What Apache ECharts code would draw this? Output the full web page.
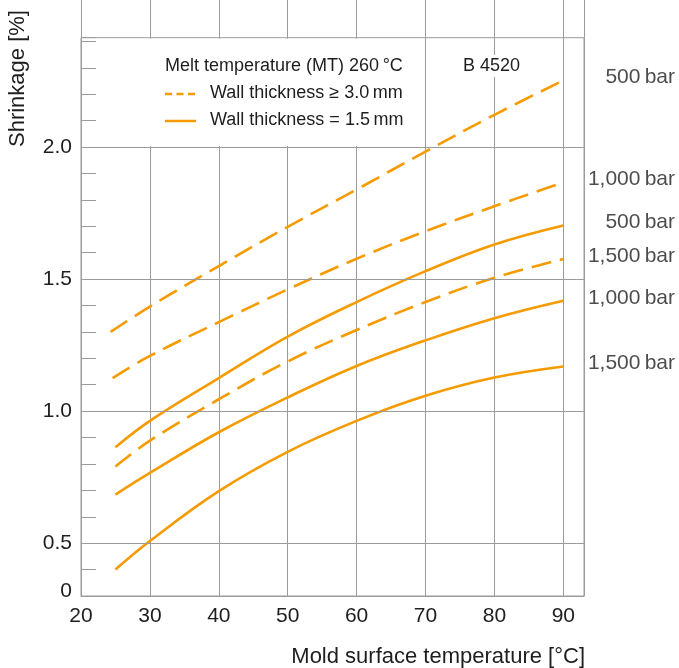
<!DOCTYPE html>
<html><head><meta charset="utf-8">
<script src="https://cdn.jsdelivr.net/npm/echarts@6/dist/echarts.min.js"></script>
<style>html,body{margin:0;padding:0;background:#fff}#c{width:679px;height:668px}</style>
</head><body><div id="c"></div>
<script>
// ---- data ----
const temps      = [25, 30, 40, 50, 60, 70, 80, 90];
const tempsD500  = [24.3, 30, 40, 50, 60, 70, 80, 90];
const tempsD1000 = [24.6, 30, 40, 50, 60, 70, 80, 90];
// wall thickness >= 3.0 mm (dashed)
const dashed500  = [1.300, 1.396, 1.549, 1.698, 1.839, 1.983, 2.122, 2.252];
const dashed1000 = [1.125, 1.209, 1.337, 1.461, 1.577, 1.681, 1.776, 1.866];
const dashed1500 = [0.790, 0.888, 1.045, 1.188, 1.307, 1.413, 1.505, 1.576];
// wall thickness = 1.5 mm (solid)
const solid500   = [0.863, 0.963, 1.125, 1.282, 1.413, 1.530, 1.631, 1.703];
const solid1000  = [0.684, 0.766, 0.920, 1.052, 1.171, 1.268, 1.352, 1.418];
const solid1500  = [0.400, 0.508, 0.697, 0.846, 0.963, 1.058, 1.127, 1.169];
const pressureLabels = ['500\u2009bar', '1,000\u2009bar', '1,500\u2009bar'];
const xTickLabels = [20, 30, 40, 50, 60, 70, 80, 90];
const yTickLabels = [0.5, 1.0, 1.5, 2.0];
const yGridLines  = [0.5, 1.0, 1.5, 2.0];
const zeroLabel = '0';
const xMin = 20, xMax = 93, yMin = 0.3, yMax = 2.414;

// ---- styles ----
const FONT = "'Liberation Sans', Arial, Helvetica, sans-serif";
const ORANGE = '#f59b00';
const GRAY = '#9b9b9b';
const TEXT = '#1e1e1e';

const curves = [
  {x: tempsD500,  y: dashed500,  dash: true,  label: pressureLabels[0]},
  {x: tempsD1000, y: dashed1000, dash: true,  label: pressureLabels[1]},
  {x: temps,      y: solid500,   dash: false, label: pressureLabels[0]},
  {x: temps,      y: dashed1500, dash: true,  label: pressureLabels[2]},
  {x: temps,      y: solid1000,  dash: false, label: pressureLabels[1]},
  {x: temps,      y: solid1500,  dash: false, label: pressureLabels[2]}
];

const series = curves.map((c, k) => ({
  type: 'line', xAxisIndex: 0, yAxisIndex: 0, silent: true, z: 3,
  data: c.x.map((t, i) => [t, c.y[i]]),
  smooth: 0.4, showSymbol: false, symbol: 'none',
  lineStyle: {color: ORANGE, width: 2.6, type: c.dash ? [20, 9] : 'solid', cap: 'butt'},
  markLine: k === 0 ? {
    silent: true, symbol: ['none', 'none'], label: {show: false}, animation: false,
    lineStyle: {color: GRAY, type: 'solid', width: 1},
    emphasis: {disabled: true},
    data: yGridLines.map(v => ({yAxis: v}))
  } : undefined
}));

series.push({
  type: 'scatter', xAxisIndex: 0, yAxisIndex: 0, silent: true, z: 4,
  symbolSize: 1, itemStyle: {color: 'rgba(0,0,0,0)'},
  label: {show: true, position: 'inside', offset: [111.7, -3], align: 'right', verticalAlign: 'middle',
          fontSize: 21, fontFamily: FONT, color: TEXT},
  data: curves.map(c => ({value: [c.x[c.x.length - 1], c.y[c.y.length - 1]], label: {formatter: c.label}}))
});

const chart = echarts.init(document.getElementById('c'), null, {renderer: 'canvas'});
const option = {
  animation: false,
  backgroundColor: '#fff',
  grid: [
    {left: 81, right: 95, top: 37.7, bottom: 71, show: true, borderColor: GRAY, borderWidth: 1, backgroundColor: 'transparent'},
    {left: 81, right: 95, top: -5, height: 42.7, show: false}
  ],
  xAxis: [
    {gridIndex: 0, type: 'value', min: xMin, max: xMax, interval: 10,
     axisLine: {show: true, lineStyle: {color: GRAY}}, axisTick: {show: false},
     splitLine: {show: true, lineStyle: {color: GRAY, width: 1}},
     axisLabel: {margin: 10, fontSize: 21, fontFamily: FONT, color: TEXT,
                 formatter: v => xTickLabels.some(t => Math.abs(t - v) < 1e-6) ? String(Math.round(v)) : ''},
     name: 'Mold surface temperature [°C]', nameLocation: 'end', nameGap: 1,
     nameTextStyle: {fontSize: 22, fontFamily: FONT, color: TEXT, align: 'right', verticalAlign: 'top', padding: [50, 0, 0, 0]}},
    {gridIndex: 1, type: 'value', min: xMin, max: xMax, interval: 10,
     axisLine: {show: false}, axisTick: {show: false}, axisLabel: {show: false},
     splitLine: {show: true, lineStyle: {color: GRAY, width: 1}}}
  ],
  yAxis: [
    {gridIndex: 0, type: 'value', min: yMin, max: yMax, interval: 0.1,
     axisLine: {show: true, lineStyle: {color: GRAY}},
     axisTick: {show: true, inside: true, length: 15, lineStyle: {color: GRAY}},
     splitLine: {show: false},
     axisLabel: {margin: 9, fontSize: 21, fontFamily: FONT, color: TEXT,
       formatter: v => {
         if (Math.abs(v - yMin) < 1e-6) return '{z|' + zeroLabel + '}';
         const hit = yTickLabels.find(t => Math.abs(t - v) < 1e-6);
         return hit !== undefined ? hit.toFixed(1) : '';
       },
       rich: {z: {fontSize: 21, fontFamily: FONT, color: TEXT, padding: [0, 0, 10, 0]}}}},
    {gridIndex: 1, type: 'value', min: 0, max: 1, show: false}
  ],
  series: series
};
chart.setOption(option);

const tl = chart.convertToPixel({gridIndex: 0}, [xMin, yMax]);
const c70 = chart.convertToPixel({gridIndex: 0}, [70, 2.0]);
const txt = (text, x, y, size, extra) => Object.assign({
  type: 'text', z: 11, silent: true, x: x, y: y,
  style: Object.assign({text: text, fontSize: size, fontFamily: FONT, fill: TEXT,
    align: 'left', verticalAlign: 'middle', textAlign: 'left', textVerticalAlign: 'middle'}, extra || {})
}, {});
chart.setOption({
  graphic: [
    {type: 'rect', z: 10, silent: true,
     shape: {x: tl[0] + 16, y: tl[1] + 1, width: (c70[0] - 1) - (tl[0] + 16), height: (c70[1] - 1) - (tl[1] + 1)},
     style: {fill: '#fff'}},
    txt('Melt temperature (MT) 260\u2009°C', 165, 66, 18),
    {type: 'line', z: 11, silent: true, shape: {x1: 165, y1: 94, x2: 196, y2: 94},
     style: {stroke: ORANGE, lineWidth: 2.5, lineDash: [7, 4.5]}},
    txt('Wall thickness \u2265 3.0\u2009mm', 210, 93, 18),
    {type: 'line', z: 11, silent: true, shape: {x1: 165, y1: 121, x2: 196, y2: 121},
     style: {stroke: ORANGE, lineWidth: 2.5}},
    txt('Wall thickness = 1.5\u2009mm', 210, 120, 18),
    txt('B 4520', 461, 66, 18, {backgroundColor: '#fff', padding: [2, 2]}),
    Object.assign(txt('Shrinkage [%]', 18, 147, 22), {rotation: Math.PI / 2})
  ]
});
</script></body></html>
